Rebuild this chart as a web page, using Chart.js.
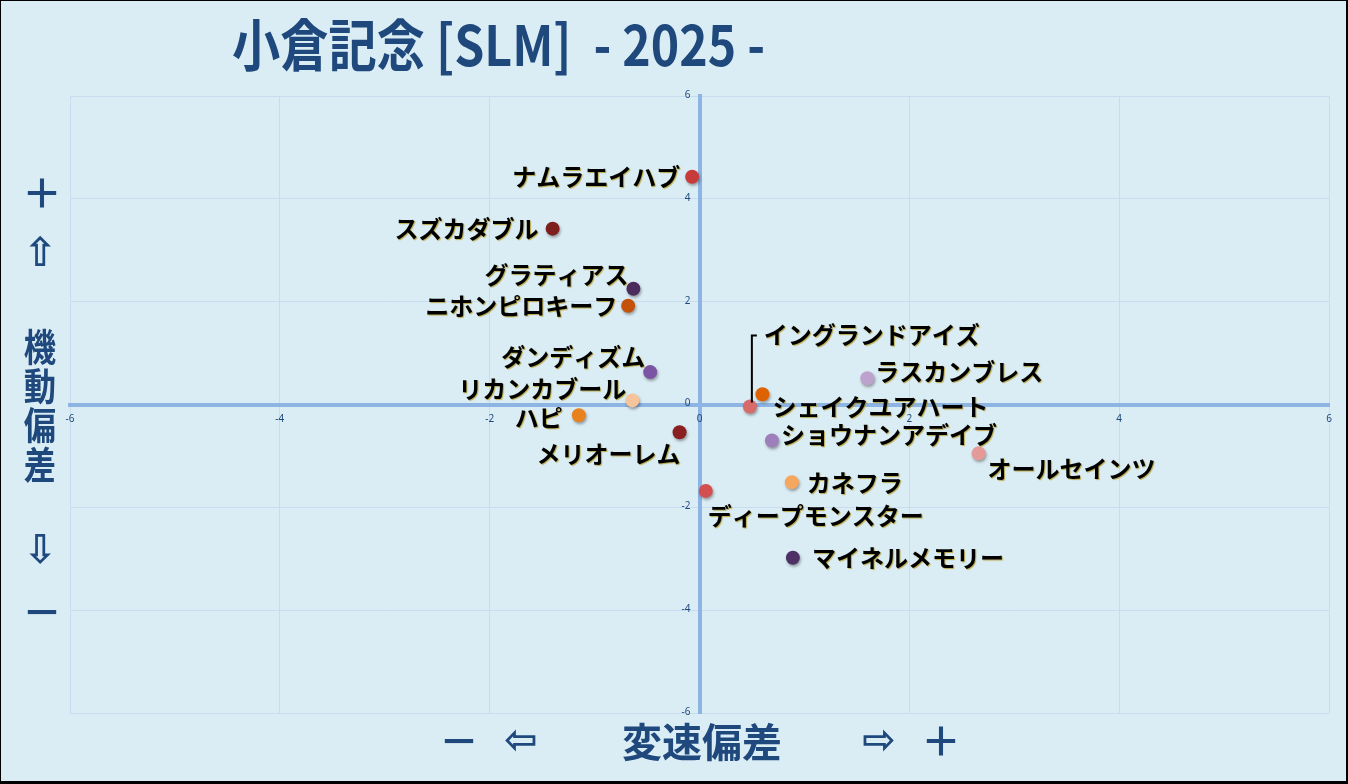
<!DOCTYPE html>
<html>
<head>
<meta charset="utf-8">
<script src="https://cdn.jsdelivr.net/npm/chart.js@4"></script>
<style>
  html, body { margin: 0; padding: 0; background: #dbedf4; }
  #wrap { position: relative; width: 1348px; height: 784px; }
</style>
</head>
<body>
<div id="wrap"><canvas id="chart"></canvas></div>
<script>
// data
const horses = ['ナムラエイハブ', 'スズカダブル', 'グラティアス', 'ニホンピロキーフ', 'ダンディズム', 'リカンカブール',
    'ハピ', 'メリオーレム', 'イングランドアイズ', 'シェイクユアハート', 'ラスカンブレス', 'ショウナンアデイブ',
    'オールセインツ', 'カネフラ', 'ディープモンスター', 'マイネルメモリー'];
const speedDev = [-0.07, -1.40, -0.63, -0.68, -0.47, -0.64, -1.15, -0.19, 0.48, 0.60, 1.60, 0.69, 2.66, 0.88, 0.06, 0.89];
const mobilityDev = [4.43, 3.42, 2.25, 1.92, 0.63, 0.08, -0.21, -0.54, -0.04, 0.20, 0.51, -0.70, -0.95, -1.51, -1.68, -2.98];
const dotColors = ['#c83b3b', '#7e1e1e', '#4a2d5c', '#c4520a', '#7b55a3', '#f6c49a', '#e8821f', '#8a1f1f',
    '#d86a6a', '#df6200', '#bca2cc', '#9d80bb', '#e39a98', '#f5a75f', '#d44f4f', '#4d3064'];
const tickValues = [-6, -4, -2, 0, 2, 4, 6];

// where each name sits relative to its dot
const labelPlace = [
    ['right', -12, 0], ['right', -14, 0], ['right', -5, -14], ['right', -11, 0],
    ['right', -5, -15], ['right', -6, -12], ['right', -16, 3], ['right', 1, 22],
    ['left', 14, -72], ['left', 10, 13], ['left', 8, -6], ['left', 9, -6],
    ['left', 9, 16], ['left', 15, 1], ['left', 2, 25], ['left', 19, 0]
];

const navy = '#1f497d';
const axisBlue = '#8db4e2';
const gridBlue = '#c9dcef';

const points = speedDev.map((x, i) => ({ x: x, y: mobilityDev[i] }));

const dotShadow = {
    id: 'dotShadow',
    beforeDatasetsDraw(chart) {
        const ctx = chart.ctx;
        ctx.save();
        ctx.shadowColor = 'rgba(0,0,0,0.35)';
        ctx.shadowOffsetX = 1;
        ctx.shadowOffsetY = 2;
        ctx.shadowBlur = 3;
    },
    afterDatasetsDraw(chart) {
        chart.ctx.restore();
    }
};

// tick numbers sit beside the zero axes, not on the frame
const axisNumbers = {
    id: 'axisNumbers',
    afterDraw(chart) {
        const ctx = chart.ctx;
        const xs = chart.scales.x, ys = chart.scales.y;
        const x0 = xs.getPixelForValue(0), y0 = ys.getPixelForValue(0);
        ctx.save();
        ctx.font = '10px "Noto Sans"';
        ctx.fillStyle = navy;
        ctx.textBaseline = 'middle';
        ctx.textAlign = 'center';
        xs.ticks.forEach(t => ctx.fillText(String(t.value), xs.getPixelForValue(t.value), y0 + 15));
        ctx.textAlign = 'right';
        ys.ticks.forEach(t => ctx.fillText(String(t.value), x0 - 9, ys.getPixelForValue(t.value) - 1));
        ctx.restore();
    }
};

const nameLabels = {
    id: 'nameLabels',
    afterDatasetsDraw(chart) {
        const ctx = chart.ctx;
        const meta = chart.getDatasetMeta(0);
        ctx.save();
        ctx.font = 'bold 24px "Noto Sans CJK JP"';
        ctx.textBaseline = 'middle';
        meta.data.forEach((pt, i) => {
            const [align, dx, dy] = labelPlace[i];
            ctx.textAlign = align === 'right' ? 'right' : 'left';
            ctx.shadowColor = 'rgba(170,140,0,0.7)';
            ctx.shadowOffsetX = 1;
            ctx.shadowOffsetY = 1;
            ctx.shadowBlur = 1;
            ctx.fillStyle = '#000';
            ctx.fillText(horses[i], pt.x + dx, pt.y + dy);
        });
        // leader line for イングランドアイズ
        const p = meta.data[8];
        ctx.shadowColor = 'transparent';
        ctx.strokeStyle = '#000';
        ctx.lineWidth = 2;
        ctx.beginPath();
        ctx.moveTo(p.x + 7, p.y - 71);
        ctx.lineTo(p.x + 2, p.y - 71);
        ctx.lineTo(p.x + 2, p.y - 4);
        ctx.stroke();
        ctx.restore();
    }
};

const frameText = {
    id: 'frameText',
    afterDraw(chart) {
        const ctx = chart.ctx;
        ctx.save();
        ctx.fillStyle = navy;
        ctx.textBaseline = 'middle';

        // title, squeezed like a condensed face
        ctx.font = 'bold 56px "Noto Sans CJK JP"';
        const title = '小倉記念 [SLM]  - 2025 -';
        const w = ctx.measureText(title).width;
        ctx.save();
        ctx.translate(232, 45);
        ctx.scale(533 / w, 1);
        ctx.textAlign = 'left';
        ctx.fillText(title, 0, 0);
        ctx.restore();

        ctx.textAlign = 'center';
        // y title
        ctx.font = 'bold 38px "Noto Sans CJK JP"';
        const yChars = ['機', '動', '偏', '差'];
        const yPos = [347, 386, 425, 465];
        yChars.forEach((c, i) => {
            ctx.save();
            ctx.translate(40, yPos[i]);
            ctx.scale(0.85, 1);
            ctx.fillText(c, 0, 0);
            ctx.restore();
        });
        ctx.font = 'bold 40px "Noto Sans CJK JP"';
        ctx.fillText('＋', 42, 193);
        ctx.fillText('－', 42, 612);
        ctx.font = 'bold 40px "DejaVu Sans"';
        ctx.fillText('⇧', 40, 256);
        ctx.fillText('⇩', 40, 553);

        // x title
        ctx.font = 'bold 40px "Noto Sans CJK JP"';
        ctx.fillText('変速偏差', 702, 742);
        ctx.fillText('－', 459, 741);
        ctx.fillText('＋', 941, 741);
        ctx.font = 'bold 40px "DejaVu Sans"';
        ctx.fillText('⇦', 521, 743);
        ctx.fillText('⇨', 879, 743);

        // outer frame
        ctx.fillStyle = '#000';
        const W = chart.width, H = chart.height;
        ctx.fillRect(0, 0, W, 1);
        ctx.fillRect(0, 0, 1, H);
        ctx.fillRect(W - 2, 0, 2, H);
        ctx.fillRect(0, H - 3, W, 3);
        ctx.restore();
    }
};

const gridStyle = {
    color: c => (c.tick && c.tick.value === 0) ? axisBlue : gridBlue,
    lineWidth: c => (c.tick && c.tick.value === 0) ? 4 : 1,
    drawTicks: false
};

new Chart(document.getElementById('chart'), {
    type: 'scatter',
    data: {
        datasets: [{
            data: points,
            backgroundColor: dotColors,
            borderWidth: 0,
            pointRadius: 7,
            pointHoverRadius: 7
        }]
    },
    options: {
        responsive: true,
        maintainAspectRatio: false,
        animation: false,
        layout: { padding: { left: 70, right: 19, top: 96, bottom: 71 } },
        plugins: { legend: { display: false }, tooltip: { enabled: false } },
        scales: {
            x: {
                type: 'linear',
                position: { y: 0 },
                min: -6, max: 6,
                afterBuildTicks: s => { s.ticks = tickValues.map(v => ({ value: v })); },
                grid: gridStyle,
                border: { color: axisBlue, width: 4 },
                ticks: { display: false }
            },
            y: {
                type: 'linear',
                position: { x: 0 },
                min: -6, max: 6,
                afterBuildTicks: s => { s.ticks = tickValues.map(v => ({ value: v })); },
                grid: gridStyle,
                border: { color: axisBlue, width: 4 },
                ticks: { display: false }
            }
        }
    },
    plugins: [dotShadow, nameLabels, axisNumbers, frameText]
});
</script>
</body>
</html>
